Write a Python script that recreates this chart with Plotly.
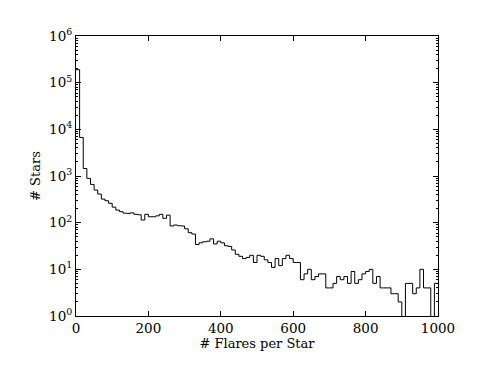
import plotly.graph_objects as go

# histogram of flares per star, 10-wide bins from 0 to 1000
bin_edges = list(range(0, 1001, 10))
star_counts = [
    190000, 6700, 1450, 890, 660, 500, 410, 320, 295, 260,
    215, 186, 172, 160, 158, 162, 151, 148, 114, 151,
    134, 134, 140, 151, 124, 145, 85, 89, 86, 85,
    74, 61, 57, 34, 37, 39, 40, 45, 35, 40,
    37, 32, 31, 26, 21, 19, 17, 18, 20, 14,
    20, 19, 16, 14, 11, 17, 12, 17, 20, 17,
    14, 14, 6, 8, 10, 6, 7, 8, 8, 4,
    4, 5, 7, 6, 7, 5, 9, 5, 6, 8,
    9, 10, 5, 7, 4, 4, 4, 3, 3, 2,
    0, 5, 5, 3, 4, 10, 4, 4, 0, 5,
]

y_major = [1, 10, 100, 1000, 10000, 100000, 1000000]
y_labels = ["10<sup>%d</sup>" % i for i in range(7)]
x_ticks = [0, 200, 400, 600, 800, 1000]

# empty bins would vanish on a log axis, push them below the frame instead
y_plot = [c if c > 0 else 0.1 for c in star_counts]
y_plot = y_plot + [y_plot[-1]]

y_minor = [m * 10 ** e for e in range(6) for m in range(2, 10)]

fig = go.Figure()
fig.add_trace(go.Scatter(
    x=bin_edges, y=y_plot, mode="lines", line_shape="hv",
    line=dict(color="black", width=1), showlegend=False, hoverinfo="skip"
))

# page body adds ~8px offset, margins account for it
fig.update_layout(
    width=484, height=382,
    margin=dict(l=68, r=54, t=28, b=74),
    paper_bgcolor="white", plot_bgcolor="white",
    font=dict(family="DejaVu Serif", size=13.5, color="black"),
)
fig.update_xaxes(
    range=[0, 1000], tickvals=x_ticks, ticks="inside", ticklen=5,
    tickcolor="black", showline=True, linecolor="black", linewidth=1,
    mirror="allticks", showgrid=False, zeroline=False, automargin=False,
    title=dict(text="# Flares per Star", standoff=3, font=dict(size=13)),
)
fig.update_yaxes(
    type="log", range=[0, 6], tickvals=y_major, ticktext=y_labels,
    ticks="inside", ticklen=5, tickcolor="black",
    minor=dict(tickvals=y_minor, ticks="inside", ticklen=2, tickcolor="black", showgrid=False),
    showline=True, linecolor="black", linewidth=1, mirror="allticks",
    showgrid=False, zeroline=False, automargin=False,
    title=dict(text="# Stars", standoff=5, font=dict(size=13)),
)

fig.write_html("out.html")
